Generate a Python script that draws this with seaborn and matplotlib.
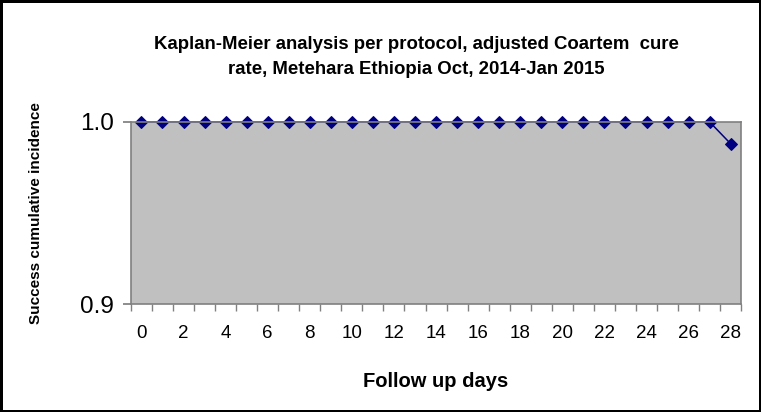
import numpy as np
import pandas as pd
import matplotlib
matplotlib.use("Agg")
import matplotlib.pyplot as plt
import seaborn as sns

days = list(range(0, 29))
success = [1.0] * 28 + [0.988]
tick_days = list(range(0, 29, 2))


def main():
    df = pd.DataFrame({"day": days, "success": success})

    sns.set_theme(style="white")
    plt.rcParams["font.family"] = ["Liberation Sans", "DejaVu Sans"]
    plt.rcParams["text.color"] = "black"
    plt.rcParams["xtick.color"] = "black"
    plt.rcParams["ytick.color"] = "black"
    plt.rcParams["axes.labelcolor"] = "black"

    fig = plt.figure(figsize=(7.61, 4.12), dpi=100)
    fig.patch.set_edgecolor("black")
    fig.patch.set_linewidth(2.5)
    ax = fig.add_axes([0.172, 0.262, 0.802, 0.442])
    ax.set_facecolor("#c0c0c0")

    sns.lineplot(data=df, x="day", y="success", ax=ax, color="#000080",
                 marker="D", markersize=6.3, markeredgecolor="#000080",
                 linewidth=1.1)

    ax.set_xlim(-0.5, 28.5)
    ax.set_ylim(0.9, 1.0)
    ax.set_xticks(tick_days)
    ax.set_xticklabels([str(d) for d in tick_days], fontsize=13.5)
    ax.set_xticks(np.arange(-0.5, 29, 1), minor=True)
    ax.tick_params(axis="x", which="major", length=0, pad=15)
    ax.tick_params(axis="x", which="minor", length=5, color="#808080",
                   direction="out", bottom=True)
    ax.set_yticks([0.9, 1.0])
    ax.set_yticklabels(["0.9", "1.0"], fontsize=17.5)
    ax.tick_params(axis="y", length=6, color="#808080", direction="out",
                   left=True, pad=6)

    for side in ["left", "bottom", "top", "right"]:
        ax.spines[side].set_color("#808080")
        ax.spines[side].set_linewidth(1.2)
    for line in ax.lines:
        line.set_clip_on(False)

    ax.set_xlabel("Follow up days", fontsize=14.5, fontweight="bold", labelpad=22)
    ax.set_ylabel("Success cumulative incidence", fontsize=11,
                  fontweight="bold", labelpad=27)

    fig.text(0.547, 0.862, "Kaplan-Meier analysis per protocol, adjusted Coartem  cure\nrate, Metehara Ethiopia Oct, 2014-Jan 2015",
             ha="center", va="center", fontsize=13.4, fontweight="bold",
             linespacing=1.65)

    fig.savefig("out.png", dpi=100, edgecolor=fig.get_edgecolor())


if __name__ == "__main__":
    main()
